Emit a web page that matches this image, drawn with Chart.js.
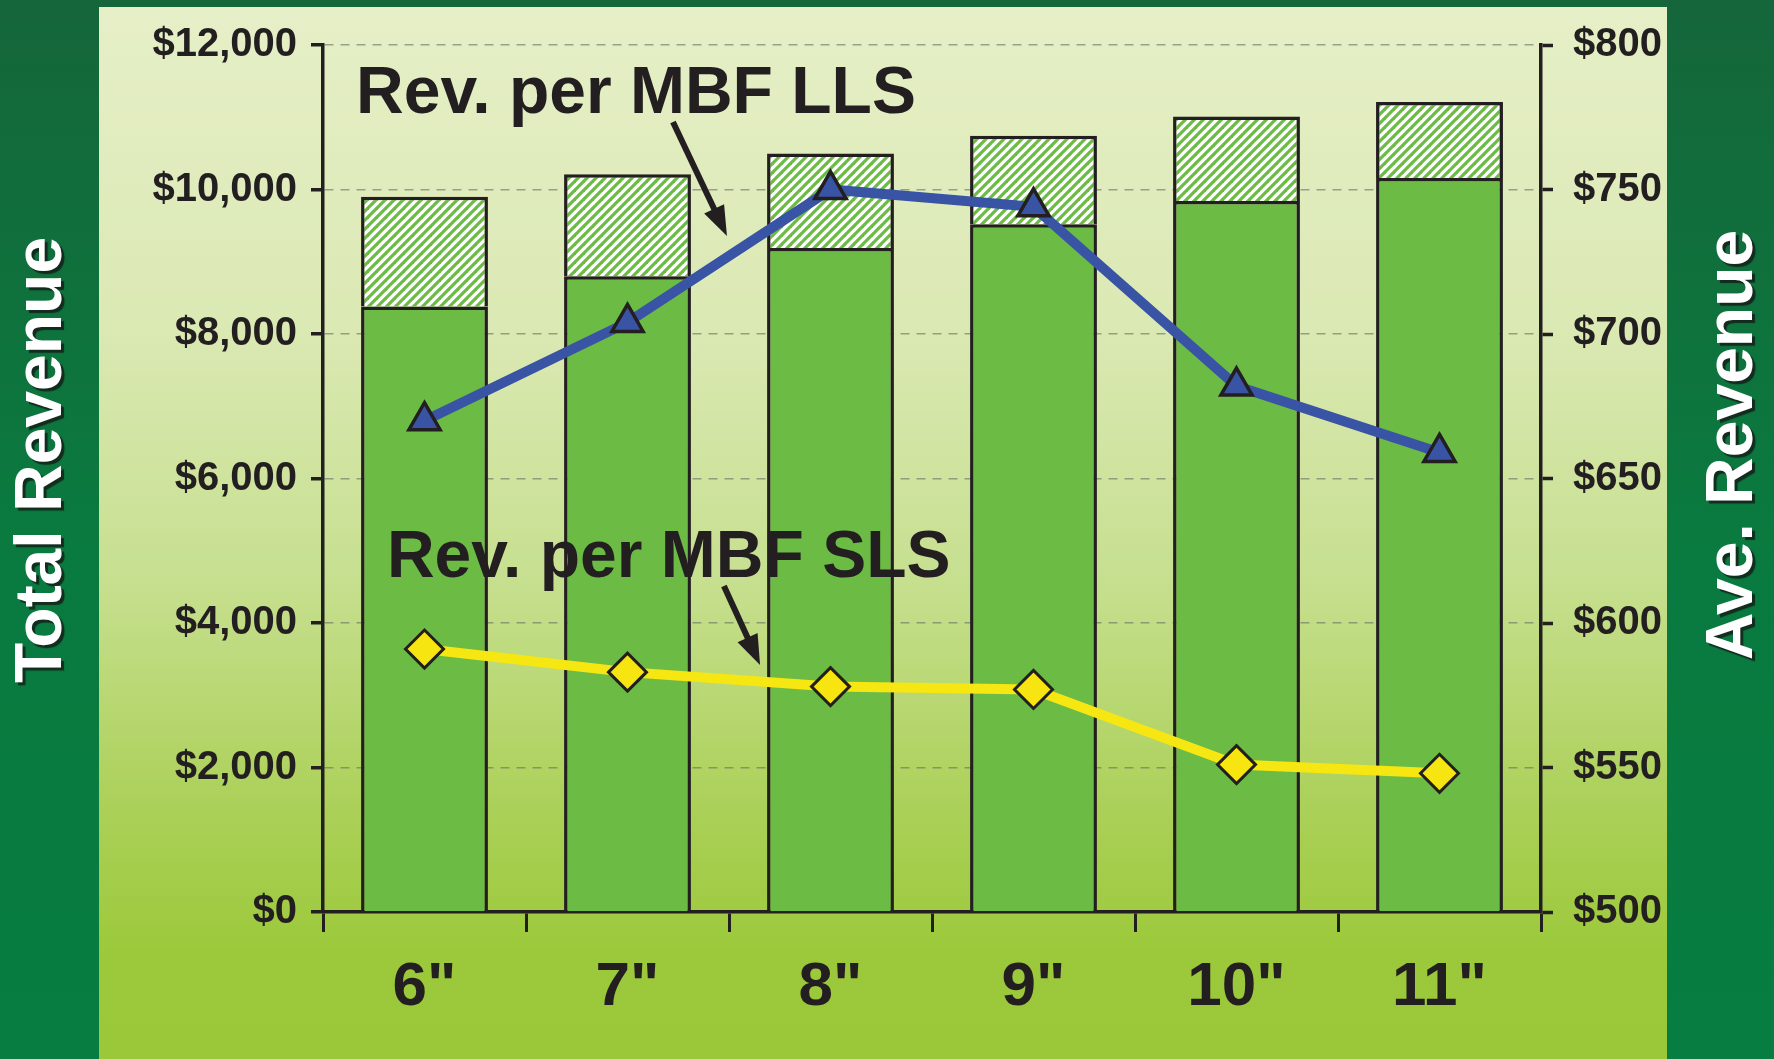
<!DOCTYPE html>
<html>
<head>
<meta charset="utf-8">
<script src="https://cdn.jsdelivr.net/npm/chart.js@4/dist/chart.umd.min.js"></script>
<style>
  html, body { margin: 0; padding: 0; background: #0b7440; }
  #wrap { width: 1774px; height: 1059px; }
  canvas { display: block; }
</style>
</head>
<body>
<div id="wrap"><canvas id="chart" width="1774" height="1059"></canvas></div>
<script>
// Log diameter classes
const categories = ['6"', '7"', '8"', '9"', '10"', '11"'];

// Total revenue per class: solid base part and hatched added part (stacked)
const baseRevenue  = [8380, 8800, 9190, 9520, 9840, 10160];
const addedRevenue = [1520, 1410, 1310, 1225, 1170, 1050];

// Average revenue per MBF (right axis)
const llsRevPerMbf = [670, 704, 750, 744, 682, 659];
const slsRevPerMbf = [591, 583, 578, 577, 551, 548];

// Axis tick values
const totalTicks = [0, 2000, 4000, 6000, 8000, 10000, 12000];
const aveTicks   = [500, 550, 600, 650, 700, 750, 800];

// Callout labels: [text, category position, total-revenue value of baseline]
const callouts = [
  { text: 'Rev. per MBF LLS', x: -0.337, y: 11059, arrow: [1.224, 10934, 1.490, 9356] },
  { text: 'Rev. per MBF SLS', x: -0.185, y: 4637,  arrow: [1.475, 4512, 1.653, 3419] }
];

const FONT = '"Liberation Sans", Arial, Helvetica, sans-serif';
const INK = '#231f20';
const BAR_GREEN = '#6bbb45';

Chart.defaults.font.family = FONT;
Chart.defaults.color = INK;

// Diagonal hatch fill for the added revenue segment
function makeHatch() {
  const s = 9;
  const c = document.createElement('canvas');
  c.width = s; c.height = s;
  const g = c.getContext('2d');
  g.fillStyle = '#ffffff';
  g.fillRect(0, 0, s, s);
  g.strokeStyle = BAR_GREEN;
  g.lineWidth = 3.2;
  for (let k = -1; k <= 1; k++) {
    g.beginPath();
    g.moveTo(-2 + k * s, s + 2);
    g.lineTo(s + 2 + k * s, -2);
    g.stroke();
  }
  return document.getElementById('chart').getContext('2d').createPattern(c, 'repeat');
}

const panelBackground = {
  id: 'panelBackground',
  beforeDraw(chart) {
    const { ctx, width, height } = chart;
    ctx.save();
    const dark = ctx.createLinearGradient(0, 0, 0, height);
    dark.addColorStop(0, '#15663a');
    dark.addColorStop(0.5, '#0a7a3f');
    dark.addColorStop(1, '#077d41');
    ctx.fillStyle = dark;
    ctx.fillRect(0, 0, width, height);

    const px = 99, py = 7, pw = 1667 - 99, ph = height - 7;
    const g = ctx.createLinearGradient(0, py, 0, height);
    g.addColorStop(0, '#e6efc7');
    g.addColorStop(0.3, '#dbe9b4');
    g.addColorStop(0.55, '#c6df8e');
    g.addColorStop(0.78, '#a9cf54');
    g.addColorStop(0.9, '#9cc93b');
    g.addColorStop(1, '#9bc839');
    ctx.fillStyle = g;
    ctx.fillRect(px, py, pw, ph);
    ctx.restore();
  }
};

function drawArrow(ctx, x1, y1, x2, y2) {
  const dx = x2 - x1, dy = y2 - y1;
  const len = Math.hypot(dx, dy);
  const ux = dx / len, uy = dy / len;
  const headLen = 30, headHalf = 11;
  const bx = x2 - ux * headLen, by = y2 - uy * headLen;
  ctx.strokeStyle = INK;
  ctx.fillStyle = INK;
  ctx.lineWidth = 6;
  ctx.lineCap = 'butt';
  ctx.beginPath();
  ctx.moveTo(x1, y1);
  ctx.lineTo(bx + ux * 4, by + uy * 4);
  ctx.stroke();
  ctx.beginPath();
  ctx.moveTo(x2, y2);
  ctx.lineTo(bx - uy * headHalf, by + ux * headHalf);
  ctx.lineTo(bx + uy * headHalf, by - ux * headHalf);
  ctx.closePath();
  ctx.fill();
}

const decorations = {
  id: 'decorations',
  afterDatasetsDraw(chart) {
    const { ctx } = chart;
    const xs = chart.scales.x, ys = chart.scales.y;
    ctx.save();
    // Callout texts with arrows
    ctx.font = 'bold 66px ' + FONT;
    ctx.textAlign = 'left';
    ctx.textBaseline = 'alphabetic';
    ctx.fillStyle = INK;
    callouts.forEach(c => {
      ctx.fillText(c.text, xs.getPixelForValue(c.x), ys.getPixelForValue(c.y));
      const a = c.arrow;
      drawArrow(ctx,
        xs.getPixelForValue(a[0]), ys.getPixelForValue(a[1]),
        xs.getPixelForValue(a[2]), ys.getPixelForValue(a[3]));
    });
    ctx.restore();
  },
  afterDraw(chart) {
    const { ctx } = chart;
    ctx.save();
    ctx.font = 'bold 66px ' + FONT;
    ctx.textAlign = 'center';
    ctx.textBaseline = 'middle';
    ctx.fillStyle = '#ffffff';
    ctx.shadowColor = 'rgba(20,20,20,0.75)';
    ctx.shadowOffsetX = 3;
    ctx.shadowOffsetY = 3;
    ctx.shadowBlur = 1;
    const titles = [['Total Revenue', 43, 460], ['Ave. Revenue', 1734, 445]];
    titles.forEach(([t, x, y]) => {
      ctx.save();
      ctx.translate(x, y);
      ctx.rotate(-Math.PI / 2);
      ctx.fillText(t, 0, 0);
      ctx.restore();
    });
    ctx.restore();
  }
};

const hatch = makeHatch();

new Chart(document.getElementById('chart'), {
  data: {
    labels: categories,
    datasets: [
      {
        type: 'bar', label: 'Base revenue', data: baseRevenue,
        backgroundColor: BAR_GREEN, borderColor: INK, borderWidth: 3.5,
        borderSkipped: 'bottom', yAxisID: 'y', stack: 'rev', order: 3,
        barPercentage: 0.625, categoryPercentage: 1
      },
      {
        type: 'bar', label: 'Added revenue', data: addedRevenue,
        backgroundColor: hatch, borderColor: INK, borderWidth: 3.5,
        borderSkipped: 'bottom', yAxisID: 'y', stack: 'rev', order: 3,
        barPercentage: 0.625, categoryPercentage: 1
      },
      {
        type: 'line', label: 'Rev. per MBF LLS', data: llsRevPerMbf, yAxisID: 'y2',
        borderColor: '#3a54a5', borderWidth: 10, tension: 0,
        pointStyle: 'triangle', pointRadius: 18,
        pointBackgroundColor: '#3a54a5', pointBorderColor: INK, pointBorderWidth: 3.5,
        order: 1
      },
      {
        type: 'line', label: 'Rev. per MBF SLS', data: slsRevPerMbf, yAxisID: 'y2',
        borderColor: '#f6e612', borderWidth: 10, tension: 0,
        pointStyle: 'rectRot', pointRadius: 19,
        pointBackgroundColor: '#f7e511', pointBorderColor: INK, pointBorderWidth: 3,
        order: 2
      }
    ]
  },
  options: {
    responsive: false,
    animation: false,
    devicePixelRatio: 1,
    layout: { padding: { left: 99, right: 107, top: 45, bottom: 0 } },
    plugins: { legend: { display: false }, tooltip: { enabled: false } },
    scales: {
      x: {
        stacked: true,
        offset: true,
        grid: { display: true, drawOnChartArea: false, offset: true,
                tickLength: 20, tickWidth: 3, tickColor: INK },
        border: { display: true, color: INK, width: 3.5 },
        ticks: { font: { size: 62, weight: 'bold' }, color: INK, padding: 19 },
        afterFit: s => { s.height = 147; }
      },
      y: {
        stacked: true,
        position: 'left',
        min: 0, max: 12000,
        afterBuildTicks: s => { s.ticks = totalTicks.map(v => ({ value: v })); },
        grid: { color: 'rgba(105,110,100,0.6)', lineWidth: 1.5,
                tickLength: 12, tickWidth: 3.5, tickColor: INK, tickBorderDash: [] },
        border: { display: true, color: INK, width: 3.5, dash: [9, 7] },
        ticks: { font: { size: 40, weight: 'bold' }, color: INK, padding: 14,
                 callback: v => '$' + Number(v).toLocaleString('en-US') },
        afterFit: s => { s.width = 224; }
      },
      y2: {
        position: 'right',
        min: 500, max: 800,
        afterBuildTicks: s => { s.ticks = aveTicks.map(v => ({ value: v })); },
        grid: { drawOnChartArea: false, tickLength: 12, tickWidth: 3.5, tickColor: INK },
        border: { display: true, color: INK, width: 3.5 },
        ticks: { font: { size: 40, weight: 'bold' }, color: INK, padding: 20,
                 callback: v => '$' + v },
        afterFit: s => { s.width = 126; }
      }
    }
  },
  plugins: [panelBackground, decorations]
});
</script>
</body>
</html>
